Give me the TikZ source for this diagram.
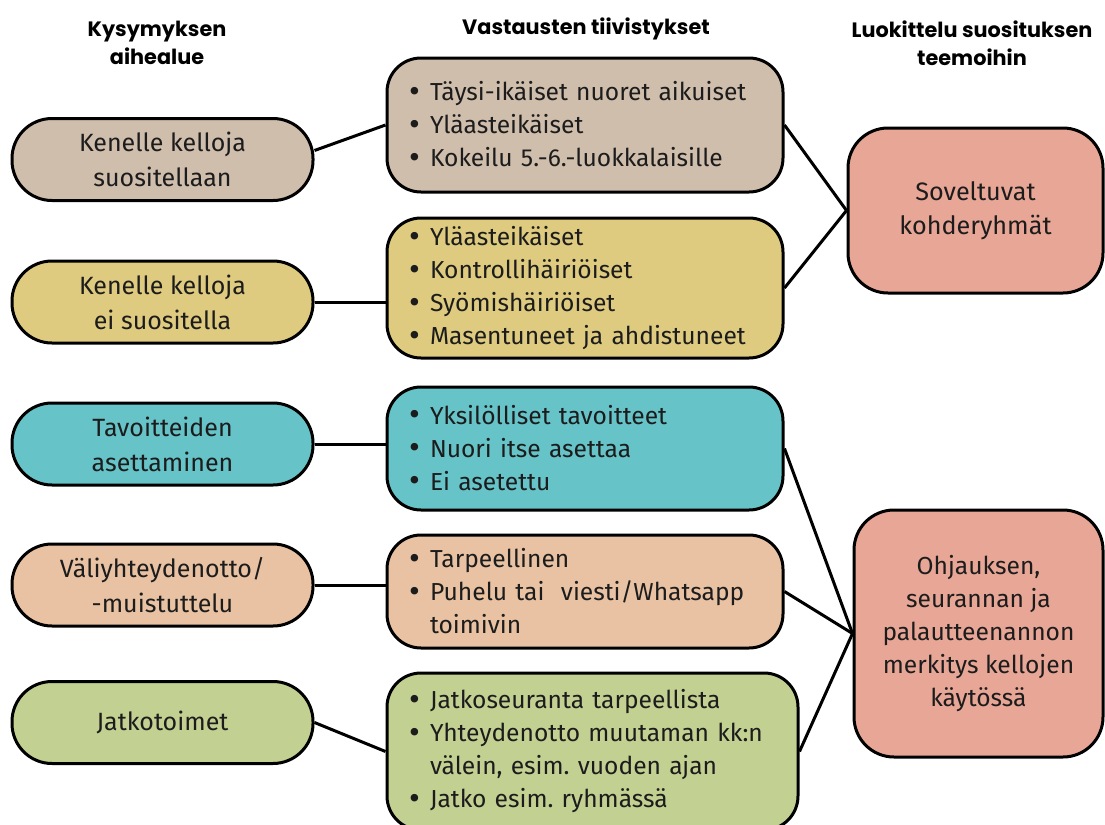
\documentclass[tikz,border=0pt]{standalone}
\usepackage{fontspec}
\setmainfont{Fira Sans}
\newfontfamily\otsikko{Poppins}
\usetikzlibrary{calc}
\definecolor{ruskea}{HTML}{D0BEAC}
\definecolor{keltainen}{HTML}{DECB80}
\definecolor{turkoosi}{HTML}{66C3C8}
\definecolor{persikka}{HTML}{E8C2A2}
\definecolor{vihrea}{HTML}{C2D092}
\definecolor{lohi}{HTML}{E8A696}
\definecolor{teksti}{HTML}{1C1C1C}
\newcommand{\kohta}{\makebox[10.5pt][l]{\raisebox{-0.12ex}{\scalebox{1.35}{\textbullet}}}}
\newcommand{\jatko}{\hspace*{10.5pt}}
\frenchspacing

\begin{document}
\begin{tikzpicture}[x=0.5pt, y=-0.5pt,
  laatikko/.style={draw=black, line width=1.5pt, text=teksti},
  aihe/.style={laatikko, rounded corners=20pt, minimum width=150.5pt, minimum height=41pt,
    align=center, inner sep=0pt, font=\fontsize{12.5}{17.5}\selectfont},
  lista/.style={laatikko, rounded corners=17pt, inner xsep=11pt, inner ysep=0pt,
    align=left, font=\fontsize{12.3}{16.5}\selectfont},
  teema/.style={laatikko, fill=lohi, rounded corners=20pt, align=center, inner sep=0pt,
    font=\fontsize{12.6}{16.8}\selectfont},
  otsake/.style={font=\otsikko\bfseries\fontsize{10.4}{14}\selectfont, align=center},
  viiva/.style={line width=1.5pt}]
\useasboundingbox (0,0) rectangle (1105,825);

% Otsikot
\node[otsake] (o1) at (157,43) {Kysymyksen\\aihealue};
\node[otsake] (o2) at (586,29) {Vastausten tiivistykset};
\node[otsake] (o3) at (972,43) {Luokittelu suosituksen\\teemoihin};

% Aihealueet
\node[aihe, fill=ruskea] (a1) at (162.5,159.5) {Kenelle kelloja\\suositellaan};
\node[aihe, fill=keltainen] (a2) at (162.5,302) {Kenelle kelloja\\ei suositella};
\node[aihe, fill=turkoosi] (a3) at (162.5,444) {Tavoitteiden\\asettaminen};
\node[aihe, fill=persikka] (a4) at (162.5,585) {Väliyhteydenotto/\\-muistuttelu};
\node[aihe, fill=vihrea] (a5) at (162.5,722.5) {Jatkotoimet};

% Tiivistykset
\node[lista, fill=ruskea, text width=176pt, minimum height=67pt] (v1) at (585,125)
  {\kohta Täysi-ikäiset nuoret aikuiset\\ \kohta Yläasteikäiset\\ \kohta Kokeilu 5.-6.-luokkalaisille};
\node[lista, fill=keltainen, text width=176pt, minimum height=70pt] (v2) at (585,288)
  {\kohta Yläasteikäiset\\ \kohta Kontrollihäiriöiset\\ \kohta Syömishäiriöiset\\ \kohta Masentuneet ja ahdistuneet};
\node[lista, fill=turkoosi, text width=176pt, minimum height=61.5pt] (v3) at (585,448.5)
  {\kohta Yksilölliset tavoitteet\\ \kohta Nuori itse asettaa\\ \kohta Ei asetettu};
\node[lista, fill=persikka, text width=176pt, minimum height=56.5pt] (v4) at (585,591.5)
  {\kohta Tarpeellinen\\ \kohta Puhelu tai\ \ viesti/Whatsapp\\ \jatko toimivin};
\node[lista, fill=vihrea, text width=183.5pt, minimum height=78.5pt] (v5) at (592.5,751.5)
  {\kohta Jatkoseuranta tarpeellista\\ \mbox{\kohta Yhteydenotto muutaman kk:n}\\ \jatko välein, esim. vuoden ajan\\ \kohta Jatko esim. ryhmässä};

% Teemat
\node[teema, minimum width=127.5pt, minimum height=82.5pt] (t1) at (975.5,210.5)
  {Soveltuvat\\kohderyhmät};
\node[teema, minimum width=124.5pt, minimum height=123.5pt, font=\fontsize{12.3}{16.5}\selectfont] (t2) at (978.5,633.5)
  {Ohjauksen,\\seurannan ja\\palautteenannon\\merkitys kellojen\\käytössä};

% Yhteydet
\draw[viiva] ($(a1.east)+(0,-9)$) -- (v1.west);
\draw[viiva] (a2.east) -- (a2.east -| v2.west);
\draw[viiva] (a3.east) -- (a3.east -| v3.west);
\draw[viiva] (a4.east) -- (a4.east -| v4.west);
\draw[viiva] (a5.east) -- (v5.west);
\draw[viiva] (v1.east) -- (t1.west);
\draw[viiva] (v2.east) -- (t1.west);
\draw[viiva] (v3.east) -- (t2.west);
\draw[viiva] (v4.east) -- (t2.west);
\draw[viiva] (v5.east) -- (t2.west);

\end{tikzpicture}
\end{document}
